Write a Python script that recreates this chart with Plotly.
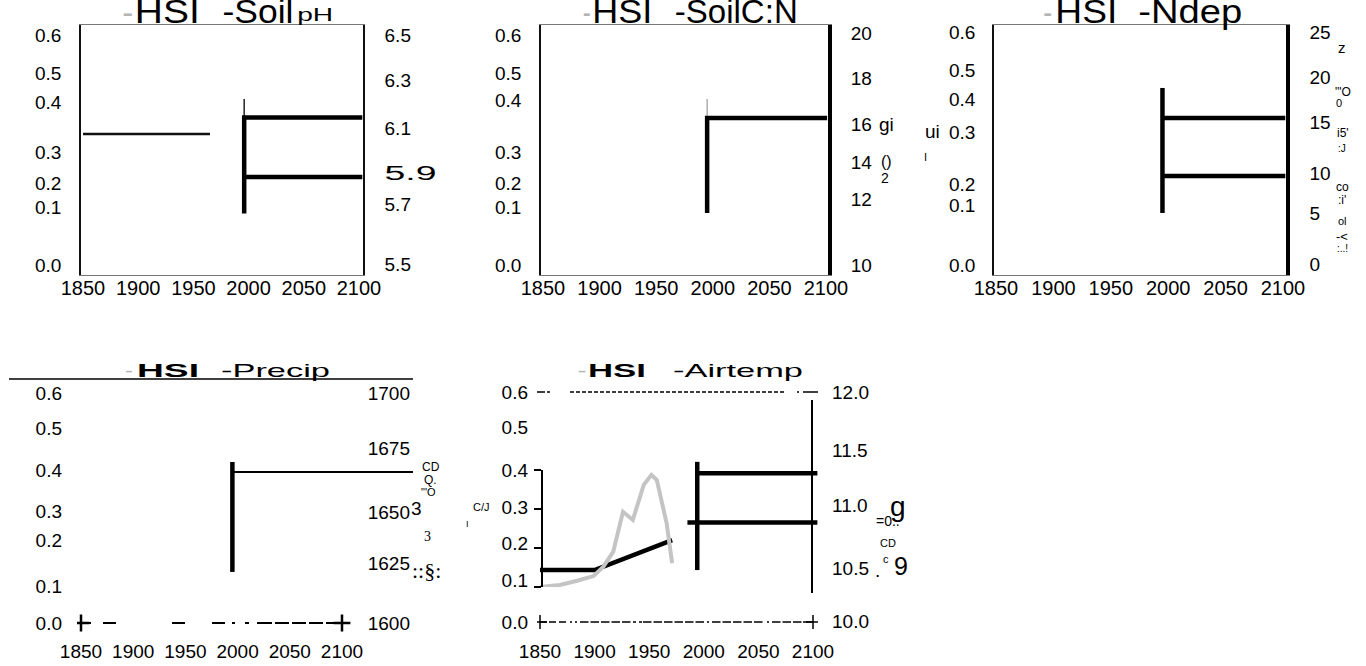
import json
import plotly.graph_objects as go

W, H = 1366, 666
FONT = "Liberation Sans, Arial, sans-serif"
SERIF = "Liberation Serif, Times New Roman, serif"

# ---------------- data ----------------
year_ticks = [1850, 1900, 1950, 2000, 2050, 2100]
hsi_ticks = ["0.6", "0.5", "0.4", "0.3", "0.2", "0.1", "0.0"]

# Soil pH
ph_ticks = ["6.5", "6.3", "6.1", "5.9", "5.7", "5.5"]
ph_hsi_year = [1850, 1965]
ph_hsi = [0.342, 0.342]
ph_tip_year = [1996, 1996]
ph_tip = [6.14, 6.22]
ph_bar_year = [1996, 1996, 2103]
ph_bar = [5.72, 6.14, 6.14]
ph_low_year = [1996, 2103]
ph_low = [5.88, 5.88]

# Soil C:N
cn_ticks = ["20", "18", "16", "14", "12", "10"]
cn_tip_year = [1995, 1995]
cn_tip = [16.34, 17.16]
cn_bar_year = [1995, 1995, 2101]
cn_bar = [12.24, 16.34, 16.34]

# N deposition
nd_ticks = ["25", "20", "15", "10", "5", "0"]
nd_bar_year = [1995, 1995]
nd_bar = [5.5, 18.97]
nd_high_year = [1995, 2102]
nd_high = [15.73, 15.73]
nd_low_year = [1995, 2102]
nd_low = [9.48, 9.48]

# Precipitation
pr_ticks = ["1700", "1675", "1650", "1625", "1600"]
pr_bar_year = [1995, 1995]
pr_bar = [1622.2, 1670.0]
pr_line_year = [1995, 2168]
pr_line = [1665.7, 1665.7]

# Air temperature
at_ticks = ["12.0", "11.5", "11.0", "10.5", "10.0"]
at_hsi_year = [1850, 1868, 1884, 1899, 1908, 1917, 1926, 1935, 1945, 1952, 1957, 1966, 1971]
at_hsi = [0.100, 0.105, 0.116, 0.128, 0.152, 0.190, 0.293, 0.272, 0.362, 0.387, 0.374, 0.263, 0.161]
at_temp_year = [1850, 1900, 1971]
at_temp = [10.445, 10.445, 10.707]
at_bar_year = [1994, 1994]
at_bar = [10.445, 11.39]
at_high_year = [1994, 2104]
at_high = [11.29, 11.29]
at_low_year = [1985, 2104]
at_low = [10.86, 10.86]
at_axis_ticks = [0.1, 0.2, 0.3, 0.4]


# ---------------- geometry helpers ----------------
def px_x(p):
    return p / W


def px_y(p):
    return 1 - p / H


def lin(v0, p0, v1, p1):
    k = (v1 - v0) / (p1 - p0)
    return lambda p: v0 + (p - p0) * k


fig = go.Figure()


def add_line(x, y, xa, ya, color="black", width=4.5, dash=None, mode="lines", marker=None):
    fig.add_trace(go.Scatter(
        x=x, y=y, xaxis=xa, yaxis=ya, mode=mode,
        line=dict(color=color, width=width, dash=dash),
        marker=marker, showlegend=False, hoverinfo="skip"))


def dash_list(segs):
    return ",".join(f"{s}px" for s in segs)


# ---------------- traces ----------------
# Soil pH
add_line(ph_hsi_year, ph_hsi, "x", "y", color="#111", width=2.5)
add_line(ph_tip_year, ph_tip, "x", "y2", color="#222", width=1.5)
add_line(ph_bar_year, ph_bar, "x", "y2")
add_line(ph_low_year, ph_low, "x", "y2")

# Soil C:N (left HSI axis holds no series here)
add_line([None], [None], "x2", "y3")
add_line(cn_tip_year, cn_tip, "x2", "y4", color="#999", width=1.2)
add_line(cn_bar_year, cn_bar, "x2", "y4")

# N deposition
add_line([None], [None], "x3", "y5")
add_line(nd_bar_year, nd_bar, "x3", "y6")
add_line(nd_high_year, nd_high, "x3", "y6")
add_line(nd_low_year, nd_low, "x3", "y6")

# Precipitation
add_line(pr_bar_year, pr_bar, "x4", "y8")
add_line(pr_line_year, pr_line, "x4", "y8", width=2)
add_line([year_ticks[0], year_ticks[-1]], [0, 0], "x4", "y7", width=2,
         dash=dash_list([10, 12, 13, 56, 13, 27, 13, 7, 3, 10, 4, 8, 15, 3, 14, 3, 14, 3, 14, 3, 16]),
         mode="lines+markers",
         marker=dict(symbol="cross-thin", size=12, line=dict(width=2.5, color="black"), color="black"))

# Air temperature
add_line(at_hsi_year, at_hsi, "x5", "y11", color="#c4c4c4", width=4)
add_line(at_temp_year, at_temp, "x5", "y10")
add_line(at_bar_year, at_bar, "x5", "y10")
add_line(at_high_year, at_high, "x5", "y10")
add_line(at_low_year, at_low, "x5", "y10")
bottom5 = [7, 2, 7, 3, 7, 4, 2, 3, 2, 3,
           8.5, 2, 8.5, 2, 8.5, 2, 8.5, 2, 8.5, 2.5, 3, 3, 3, 1,
           8.5, 2, 8.5, 2, 8.5, 2, 8.5, 2, 8.5, 2, 8.5, 3, 2, 3,
           8.5, 2, 8.5, 2, 8.5, 2, 8.5, 2, 8.5, 4.5, 2, 3,
           8.5, 2, 8.5, 2, 8.5, 1.5, 10]
add_line([year_ticks[0], year_ticks[-1]], [0, 0], "x5", "y9", width=1.6,
         dash=dash_list(bottom5), mode="lines+markers",
         marker=dict(symbol="cross-thin", size=10, line=dict(width=1.5, color="black"), color="black"))
# frame edge on the right of the temperature panel
add_line([None], [None], "x5", "y12")

# ---------------- axes ----------------
tick_font_y = dict(size=19, family=FONT, color="black")


def xaxis(dom, xmap, anchor, size=20, **kw):
    d = dict(domain=[px_x(dom[0]), px_x(dom[1])], anchor=anchor,
             range=[xmap(dom[0]), xmap(dom[1])],
             tickmode="array", tickvals=year_ticks, ticktext=[str(v) for v in year_ticks],
             ticks="", showgrid=False, zeroline=False, automargin=False,
             tickfont=dict(size=size, family=FONT, color="black"))
    d.update(kw)
    return d


def yaxis(dom, ymap, labels, label_px, **kw):
    d = dict(range=[ymap(dom[1]), ymap(dom[0])],
             tickmode="array", tickvals=[ymap(p) for p in label_px], ticktext=labels,
             ticks="", showgrid=False, zeroline=False, automargin=False, tickfont=tick_font_y)
    if "overlaying" not in kw:
        d["domain"] = [px_y(dom[1]), px_y(dom[0])]
    d.update(kw)
    return d


layout_axes = {}
frame = dict(showline=True, mirror=True, linecolor="#777", linewidth=1, ticklabelstandoff=-5)

# Soil pH panel
top = (25, 275)
m1 = lin(1850, 83, 2100, 359)
layout_axes["xaxis"] = xaxis((81, 363), m1, "y", **frame)
layout_axes["yaxis"] = yaxis(top, lin(0.0, 265, 0.6, 35), hsi_ticks, [35, 73, 102, 152, 183, 207, 265],
                             anchor="x", showline=True, linecolor="#111", linewidth=1.5, ticklabelstandoff=14)
layout_axes["yaxis2"] = yaxis(top, lin(5.5, 264, 6.5, 35), ph_ticks, [35, 80, 128, 173, 204, 264],
                              anchor="x", overlaying="y", side="right", showline=True,
                              linecolor="#111", linewidth=1.5, ticklabelstandoff=16)

# Soil C:N panel
m2 = lin(1850, 543, 2100, 826)
layout_axes["xaxis2"] = xaxis((541, 828), m2, "y3", **frame)
layout_axes["yaxis3"] = yaxis(top, lin(0.0, 265, 0.6, 35), hsi_ticks, [35, 73, 100, 152, 183, 207, 265],
                              anchor="x2", showline=True, linecolor="#111", linewidth=1.5, ticklabelstandoff=14)
layout_axes["yaxis4"] = yaxis(top, lin(10, 265, 20, 33), cn_ticks, [33, 78, 124, 162, 199, 265],
                              anchor="x2", overlaying="y3", side="right", showline=True,
                              linecolor="black", linewidth=4, ticklabelstandoff=15)

# N deposition panel
m3 = lin(1850, 996, 2100, 1283)
layout_axes["xaxis3"] = xaxis((994, 1286), m3, "y5", **frame)
layout_axes["yaxis5"] = yaxis(top, lin(0.0, 265, 0.6, 32), hsi_ticks, [32, 70, 99, 132, 184, 205, 265],
                              anchor="x3", showline=True, linecolor="#111", linewidth=1.5, ticklabelstandoff=13)
layout_axes["yaxis6"] = yaxis(top, lin(0, 264, 25, 32), nd_ticks, [32, 77, 122, 173, 213, 264],
                              anchor="x3", overlaying="y5", side="right", showline=True,
                              linecolor="black", linewidth=3.5, ticklabelstandoff=16)

# Precipitation panel
bot = (379, 638)
m4 = lin(1850, 81, 2100, 342)
layout_axes["xaxis4"] = xaxis((77, 413), m4, "y7", size=19)
layout_axes["yaxis7"] = yaxis(bot, lin(0.0, 623, 0.6, 393), hsi_ticks, [393, 428, 470, 511, 540, 586, 623],
                              anchor="free", position=px_x(62))
layout_axes["yaxis8"] = yaxis(bot, lin(1600, 623, 1700, 393), pr_ticks, [393, 448, 512, 563, 623],
                              anchor="x4", overlaying="y7", side="right", ticklabelposition="inside")

# Air temperature panel
m5 = lin(1850, 540, 2100, 813)
layout_axes["xaxis5"] = xaxis((537, 818), m5, "y9", size=19)
layout_axes["yaxis9"] = yaxis(bot, lin(0.0, 622, 0.6, 392), hsi_ticks, [392, 427, 470, 507, 543, 580, 622],
                              anchor="x5", ticklabelstandoff=8)
layout_axes["yaxis10"] = yaxis(bot, lin(10, 621, 12, 392), at_ticks, [392, 450, 505, 568, 621],
                               anchor="x5", overlaying="y9", side="right", ticklabelstandoff=13)
layout_axes["yaxis11"] = dict(domain=[px_y(587), px_y(470)], anchor="free", position=px_x(542),
                              range=[at_axis_ticks[0], at_axis_ticks[-1]], tickmode="array",
                              tickvals=at_axis_ticks, ticks="outside", ticklen=7, tickwidth=1.5,
                              tickcolor="black", showticklabels=False, showline=True,
                              linecolor="black", linewidth=1.5, showgrid=False, zeroline=False,
                              automargin=False)
layout_axes["yaxis12"] = dict(domain=[px_y(593), px_y(400)], anchor="free", position=px_x(812),
                              side="right", range=[0, 1], showticklabels=False, ticks="",
                              showline=True, linecolor="black", linewidth=2,
                              showgrid=False, zeroline=False, automargin=False)

# ---------------- titles and side texts ----------------
annotations = []
fit = {}


def text(t, x, y, size, color="black", family=FONT, width=None, xanchor="center"):
    if width is not None:
        fit[len(annotations)] = width
    annotations.append(dict(text=t, x=px_x(x), y=px_y(y), xref="paper", yref="paper",
                            xanchor=xanchor, yanchor="middle", showarrow=False,
                            font=dict(size=size, family=family, color=color)))


GRAY = "#b4b4b4"
# top row titles (large type, cut by the top edge)
for dash_x, hsi_x, name_x, name, sub in [
    ((122, 133), (135, 200), (222, 293), "-Soil", "pH"),
    ((582, 590), (592, 652), (675, 798), "-SoilC:N", None),
    ((1043, 1052), (1055, 1117), (1138, 1242), "-Ndep", None),
]:
    text("-", sum(dash_x) / 2, 12, 34, color=GRAY, width=dash_x[1] - dash_x[0])
    text("HSI", sum(hsi_x) / 2, 11, 34, width=hsi_x[1] - hsi_x[0])
    text(name, sum(name_x) / 2, 11, 34, width=name_x[1] - name_x[0])
    if sub:
        text(sub, 315, 15, 19, width=36)

# bottom row titles (wide type)
for dash_x, hsi_x, name_x, name in [
    ((125, 133), (137, 199), (221, 330), "-Precip"),
    ((577, 586), (588, 646), (673, 803), "-Airtemp"),
]:
    text("-", sum(dash_x) / 2, 371, 18, color=GRAY, width=dash_x[1] - dash_x[0])
    text("<b>HSI</b>", sum(hsi_x) / 2, 370.5, 18, width=hsi_x[1] - hsi_x[0])
    text(name, sum(name_x) / 2, 370.5, 18, width=name_x[1] - name_x[0])

# side texts
text("gi", 886, 124, 19)
text("()", 887, 162, 16)
text("2", 885, 178, 14)
text("ui", 932, 132, 19)
text("I", 925, 157, 11)
for t, x, y, s in [("z", 1342, 47, 15), ("\"'O", 1343, 92, 12), ("0", 1339, 103, 11),
                   ("i5'", 1343, 133, 12), (":J", 1342, 148, 10), ("co", 1342, 187, 12),
                   (":i'", 1342, 200, 12), ("ol", 1342, 221, 11), ("-<", 1342, 237, 13),
                   (":..!", 1342, 249, 10)]:
    text(t, x, y, s)
for t, x, y, s in [("CD", 431, 467, 12), ("Q.", 430, 480, 12), ("\"'O", 428, 492, 11)]:
    text(t, x, y, s)
text("3", 416, 508, 19)
text("3", 427, 536, 14, family=SERIF)
text("::§:", 426, 570, 22, family=SERIF)
text("C/J", 481, 507, 11)
text("I", 467, 524, 9)
text("g", 898, 506, 28)
text("=0..", 888, 521, 14)
text("CD", 888, 543, 11)
text(".", 877, 570, 19)
text("c", 886, 559, 11)
text("9", 901, 566, 25)

shapes = [
    dict(type="line", xref="paper", yref="paper", x0=px_x(9), x1=px_x(413),
         y0=px_y(379), y1=px_y(379), line=dict(color="black", width=1.5)),
    dict(type="line", xref="x5 domain", yref="y9", x0=0, x1=1,
         y0=float(hsi_ticks[0]), y1=float(hsi_ticks[0]),
         line=dict(color="black", width=1.5,
                   dash=dash_list([8, 2, 3, 20] + [4, 2] * 35 + [4, 13, 2, 4, 15]))),
]

fig.update_layout(
    width=W, height=H, autosize=False,
    margin=dict(l=0, r=0, t=0, b=0, autoexpand=False),
    paper_bgcolor="white", plot_bgcolor="rgba(0,0,0,0)",
    font=dict(family=FONT, color="black"),
    showlegend=False,
    annotations=annotations,
    shapes=shapes,
    **layout_axes,
)

post = """
var gd = document.getElementById('{plot_id}');
var FIT = __FIT__;
function stretchText(t, target, origin) {
  t.style.transform = '';
  var w = t.getBBox().width;
  if (!w) return;
  t.style.transformBox = 'fill-box';
  t.style.transformOrigin = origin;
  t.style.transform = 'scaleX(' + (target / w) + ')';
}
function fitTexts() {
  gd.querySelectorAll('g.annotation').forEach(function (g) {
    var i = g.getAttribute('data-index');
    if (!(i in FIT)) return;
    var t = g.querySelector('text');
    if (t) stretchText(t, FIT[i], 'center');
  });
  // the wide 5.9 label on the pH axis: stretch glyphs without touching its placement
  gd.querySelectorAll('text').forEach(function (t) {
    if (t.textContent === '5.9' && !t.closest('g.annotation')) {
      t.style.fontSize = '20px';
      t.setAttribute('textLength', '52');
      t.setAttribute('lengthAdjust', 'spacingAndGlyphs');
    }
  });
}
fitTexts();
gd.on('plotly_afterplot', fitTexts);
""".replace("__FIT__", json.dumps({str(k): v for k, v in fit.items()}))

fig.write_html("out.html", post_script=post)
